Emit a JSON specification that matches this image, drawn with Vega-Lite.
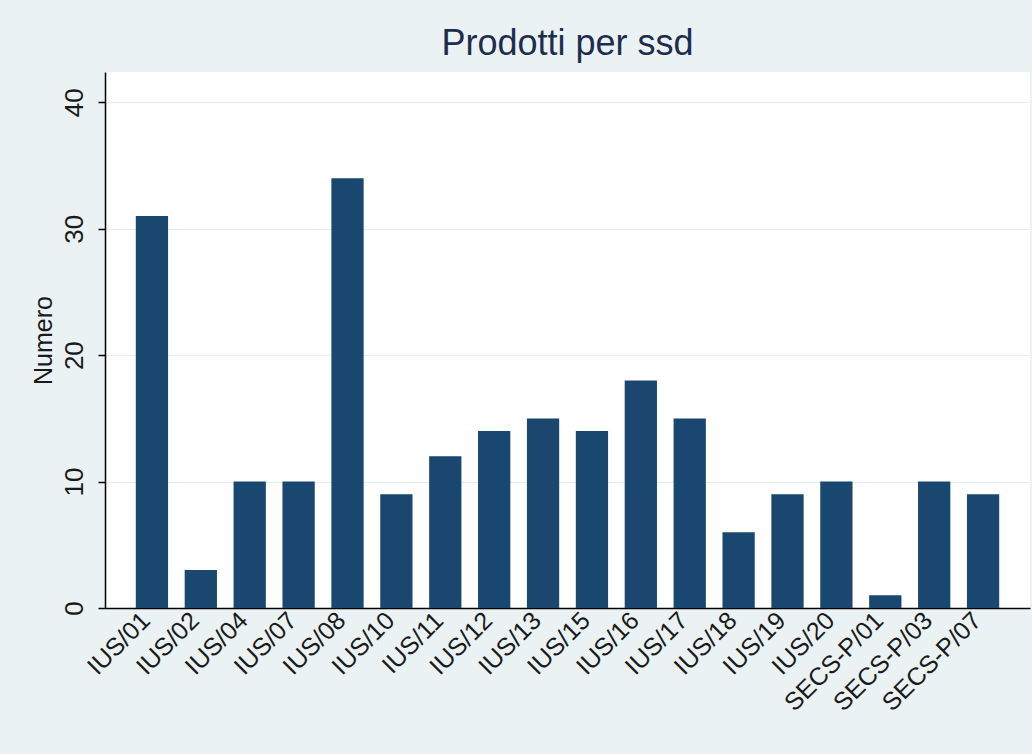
{
  "$schema": "https://vega.github.io/schema/vega-lite/v6.json",
  "autosize": "none",
  "width": 925,
  "height": 536,
  "padding": {"left": 105, "top": 72, "right": 2, "bottom": 146},
  "background": "#EAF2F3",
  "config": {
    "font": "Liberation Sans",
    "view": {"fill": "white", "stroke": null}
  },
  "title": {
    "text": "Prodotti per ssd",
    "fontSize": 36,
    "fontWeight": "normal",
    "color": "#1e2d4f",
    "anchor": "middle",
    "offset": 9
  },
  "data": {
    "values": [
      {"ssd": "IUS/01", "n": 31},
      {"ssd": "IUS/02", "n": 3},
      {"ssd": "IUS/04", "n": 10},
      {"ssd": "IUS/07", "n": 10},
      {"ssd": "IUS/08", "n": 34},
      {"ssd": "IUS/10", "n": 9},
      {"ssd": "IUS/11", "n": 12},
      {"ssd": "IUS/12", "n": 14},
      {"ssd": "IUS/13", "n": 15},
      {"ssd": "IUS/15", "n": 14},
      {"ssd": "IUS/16", "n": 18},
      {"ssd": "IUS/17", "n": 15},
      {"ssd": "IUS/18", "n": 6},
      {"ssd": "IUS/19", "n": 9},
      {"ssd": "IUS/20", "n": 10},
      {"ssd": "SECS-P/01", "n": 1},
      {"ssd": "SECS-P/03", "n": 10},
      {"ssd": "SECS-P/07", "n": 9}
    ]
  },
  "mark": {"type": "bar", "color": "#1A476F"},
  "encoding": {
    "x": {
      "field": "ssd",
      "type": "nominal",
      "sort": null,
      "scale": {"paddingInner": 0.34, "paddingOuter": 0.63},
      "axis": {
        "title": null,
        "labelAngle": -45,
        "labelAlign": "right",
        "labelBaseline": "middle",
        "labelFontSize": 25,
        "labelColor": "#1a1a1a",
        "labelPadding": 8,
        "labelOffset": -6,
        "ticks": false,
        "domainColor": "#000000",
        "domainWidth": 1.5,
        "grid": false
      }
    },
    "y": {
      "field": "n",
      "type": "quantitative",
      "scale": {"domain": [0, 42.4], "nice": false, "zero": true},
      "axis": {
        "title": "Numero",
        "titleFontSize": 25,
        "titleFontWeight": "normal",
        "titleColor": "#1a1a1a",
        "titlePadding": 5,
        "values": [0, 10, 20, 30, 40],
        "labelAngle": -90,
        "labelAlign": "center",
        "labelBaseline": "bottom",
        "labelFontSize": 26,
        "labelColor": "#1a1a1a",
        "labelPadding": 11,
        "tickSize": 7,
        "tickColor": "#000000",
        "tickWidth": 1.5,
        "domainColor": "#000000",
        "domainWidth": 1.5,
        "grid": true,
        "gridColor": "#E4EEF0",
        "gridWidth": 1
      }
    }
  }
}
